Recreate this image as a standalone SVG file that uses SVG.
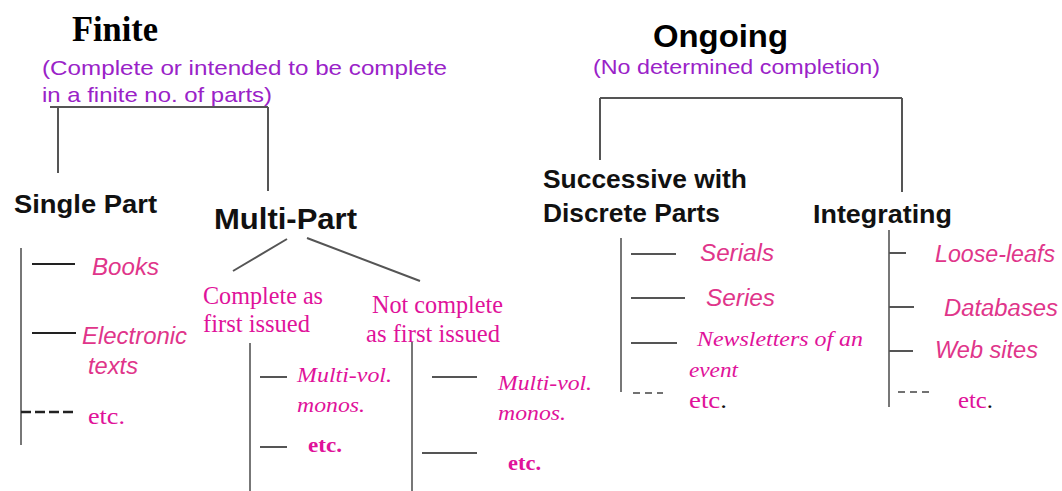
<svg xmlns="http://www.w3.org/2000/svg" width="1062" height="491" viewBox="0 0 1062 491">
<style>
.title{font-family:"Liberation Serif",serif;font-weight:bold;fill:#000}
.otitle{font-family:"Liberation Sans",Arial,sans-serif;font-weight:bold;fill:#000}
.sub{font-family:"Liberation Sans",Arial,sans-serif;fill:#9a22c8;font-size:21px}
.head{font-family:"Liberation Sans",Arial,sans-serif;font-weight:bold;fill:#111}
.ital{font-family:"Liberation Sans",Arial,sans-serif;font-style:italic;fill:#e0358a;font-size:23px}
.serif{font-family:"Liberation Serif",serif;fill:#e0129a}
.iserif{font-family:"Liberation Serif",serif;font-style:italic;fill:#e0129a;font-size:22px}
.bserif{font-family:"Liberation Serif",serif;font-weight:bold;fill:#e0129a;font-size:22px}
.dot{fill:#111}
.ln{stroke:#555;stroke-width:2;fill:none}
.dk{stroke:#222;stroke-width:2;fill:none}
.vt{stroke:#777;stroke-width:2;fill:none}
.dash{stroke:#222;stroke-width:2.5;stroke-dasharray:10 4;fill:none}
.dash2{stroke:#444;stroke-width:1.5;stroke-dasharray:7 5;fill:none}
</style>
<rect width="1062" height="491" fill="#fff"/>
<g id="finite">
<text class="title" x="72" y="41" font-size="35" textLength="86" lengthAdjust="spacingAndGlyphs">Finite</text>
<text class="sub" x="42" y="75" textLength="405" lengthAdjust="spacingAndGlyphs">(Complete or intended to be complete</text>
<text class="sub" x="42" y="102" textLength="230" lengthAdjust="spacingAndGlyphs">in a finite no. of parts)</text>
</g>
<g id="ongoing">
<text class="otitle" x="653" y="47" font-size="31" textLength="135" lengthAdjust="spacingAndGlyphs">Ongoing</text>
<text class="sub" x="593" y="74" textLength="287" lengthAdjust="spacingAndGlyphs">(No determined completion)</text>
</g>
<g id="single-part">
<text class="head" x="14" y="213" font-size="25" textLength="143" lengthAdjust="spacingAndGlyphs">Single Part</text>
</g>
<g id="multi-part">
<text class="head" x="214" y="229" font-size="29" textLength="143" lengthAdjust="spacingAndGlyphs">Multi-Part</text>
</g>
<g id="successive">
<text class="head" x="543" y="188" font-size="25" textLength="204" lengthAdjust="spacingAndGlyphs">Successive with</text>
<text class="head" x="543" y="222" font-size="25" textLength="177" lengthAdjust="spacingAndGlyphs">Discrete Parts</text>
</g>
<g id="integrating">
<text class="head" x="813" y="223" font-size="25" textLength="139" lengthAdjust="spacingAndGlyphs">Integrating</text>
</g>
<g id="single-items">
<text class="ital" x="92" y="275" textLength="67" lengthAdjust="spacingAndGlyphs">Books</text>
<text class="ital" x="82" y="344" textLength="105" lengthAdjust="spacingAndGlyphs">Electronic</text>
<text class="ital" x="88" y="374" textLength="50" lengthAdjust="spacingAndGlyphs">texts</text>
<text class="serif" x="88" y="424" font-size="24" textLength="37" lengthAdjust="spacingAndGlyphs">etc.</text>
</g>
<g id="complete">
<text class="serif" x="203" y="304" font-size="25" textLength="120" lengthAdjust="spacingAndGlyphs">Complete as</text>
<text class="serif" x="203" y="332" font-size="25" textLength="107" lengthAdjust="spacingAndGlyphs">first issued</text>
<text class="iserif" x="297" y="382" textLength="95" lengthAdjust="spacingAndGlyphs">Multi-vol.</text>
<text class="iserif" x="297" y="412" textLength="68" lengthAdjust="spacingAndGlyphs">monos.</text>
<text class="bserif" x="308" y="452" textLength="34" lengthAdjust="spacingAndGlyphs">etc.</text>
</g>
<g id="not-complete">
<text class="serif" x="372" y="313" font-size="25" textLength="131" lengthAdjust="spacingAndGlyphs">Not complete</text>
<text class="serif" x="366" y="342" font-size="25" textLength="134" lengthAdjust="spacingAndGlyphs">as first issued</text>
<text class="iserif" x="498" y="390" textLength="94" lengthAdjust="spacingAndGlyphs">Multi-vol.</text>
<text class="iserif" x="498" y="420" textLength="68" lengthAdjust="spacingAndGlyphs">monos.</text>
<text class="bserif" x="508" y="470" textLength="33" lengthAdjust="spacingAndGlyphs">etc.</text>
</g>
<g id="successive-items">
<text class="ital" x="700" y="261" textLength="74" lengthAdjust="spacingAndGlyphs">Serials</text>
<text class="ital" x="706" y="306" textLength="69" lengthAdjust="spacingAndGlyphs">Series</text>
<text class="iserif" x="697" y="346" font-size="21" textLength="166" lengthAdjust="spacingAndGlyphs">Newsletters of an</text>
<text class="iserif" x="689" y="377" font-size="21" textLength="49" lengthAdjust="spacingAndGlyphs">event</text>
<text class="serif" x="689" y="408" font-size="24" textLength="38" lengthAdjust="spacingAndGlyphs">etc<tspan class="dot">.</tspan></text>
</g>
<g id="integrating-items">
<text class="ital" x="935" y="262" textLength="120" lengthAdjust="spacingAndGlyphs">Loose-leafs</text>
<text class="ital" x="944" y="316" textLength="114" lengthAdjust="spacingAndGlyphs">Databases</text>
<text class="ital" x="935" y="358" textLength="103" lengthAdjust="spacingAndGlyphs">Web sites</text>
<text class="serif" x="958" y="408" font-size="24" textLength="35" lengthAdjust="spacingAndGlyphs">etc<tspan class="dot">.</tspan></text>
</g>
<g id="connectors">
<path class="ln" d="M50 107H268M58 107V173M268 107V191"/>
<path class="ln" d="M600 98H902M600 98V160M902 98V192"/>
<path class="vt" d="M21 248V445"/>
<path class="dk" d="M32 264H75M32 333H76"/>
<path class="dash" d="M21 412H76"/>
<path class="ln" d="M233 271L287 239M307 238L420 281"/>
<path class="vt" d="M250 343V491M412 342V491"/>
<path class="ln" d="M260 377H287M260 447H287M432 377H477M422 453H477"/>
<path class="vt" d="M621 238V392M889 230V407"/>
<path class="ln" d="M631 254H676M631 298H685M631 343H677"/>
<path class="ln" d="M889 253H906M889 307H914M889 351H913"/>
<path class="dash2" d="M633 393H663M898 392H930"/>
</g>
</svg>
